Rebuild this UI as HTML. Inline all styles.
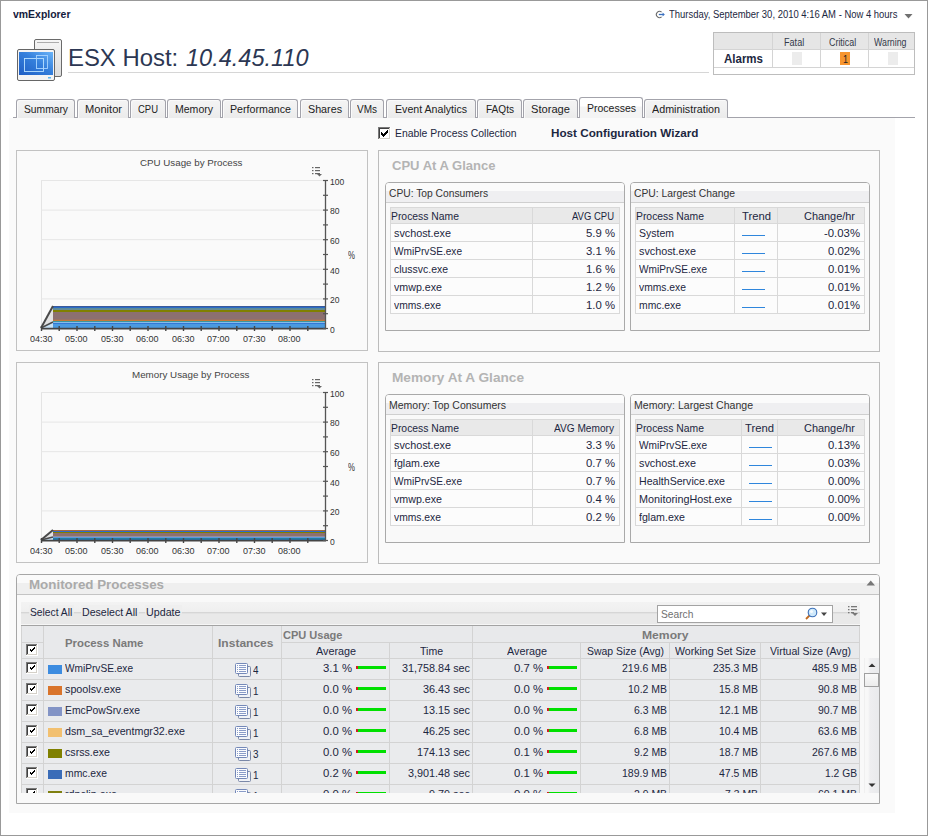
<!DOCTYPE html>
<html><head><meta charset="utf-8"><title>vmExplorer</title>
<style>
html,body{margin:0;padding:0;background:#fff;width:928px;height:836px;overflow:hidden}
body{position:relative;font-family:"Liberation Sans",sans-serif}
.t{position:absolute;white-space:nowrap;line-height:1;transform-origin:0 0}
</style></head><body>
<div class="t" style="left:13.00px;top:8.69px;font-size:11px;color:#14203c;font-weight:bold;transform:scaleX(0.9500);">vmExplorer</div>
<svg style="position:absolute;left:655px;top:9px" width="12" height="11" viewBox="0 0 12 11"><path d="M6.6 3.2 A3.1 3.1 0 1 0 6.6 7.8" fill="none" stroke="#6a6a6a" stroke-width="1.1"/><path d="M3.8 5.5 H8.5" stroke="#3a70c0" stroke-width="1.3"/><path d="M7.6 3.6 L9.8 5.5 L7.6 7.4 Z" fill="#3a70c0"/></svg>
<div class="t" style="left:668.50px;top:9.54px;font-size:10px;color:#1c2741;transform:scaleX(0.9457);">Thursday, September 30, 2010 4:16 AM - Now 4 hours</div>
<svg style="position:absolute;left:904px;top:14px" width="10" height="6"><path d="M0.5 0 H8.5 L4.5 4.5 Z" fill="#707070"/></svg>
<svg style="position:absolute;left:16px;top:38px" width="48" height="45" viewBox="0 0 48 45">
<defs><linearGradient id="scr" x1="0" y1="1" x2="1" y2="0"><stop offset="0" stop-color="#1f5ec4"/><stop offset="0.55" stop-color="#3580dc"/><stop offset="1" stop-color="#6ab4f8"/></linearGradient>
<linearGradient id="srv" x1="0" y1="0" x2="0" y2="1"><stop offset="0" stop-color="#f6f6f6"/><stop offset="1" stop-color="#dcdcdc"/></linearGradient></defs>
<rect x="18.5" y="1.5" width="27" height="37" rx="1.5" fill="url(#srv)" stroke="#6a6a6a" stroke-width="1"/>
<line x1="21" y1="4.5" x2="43" y2="4.5" stroke="#999" stroke-width="0.8"/>
<rect x="1.5" y="11.5" width="37" height="31" rx="1.5" fill="#f4f4f4" stroke="#666" stroke-width="1"/>
<rect x="3" y="14" width="34" height="23" fill="url(#scr)"/>
<rect x="8.5" y="20.5" width="19" height="13" fill="none" stroke="#b8e0ff" stroke-width="0.9"/>
<rect x="20.5" y="17.5" width="11" height="13" fill="none" stroke="#a8d4ff" stroke-width="0.9"/>
<rect x="32" y="39" width="3" height="1.5" fill="#5ab4f0"/>
</svg>
<div class="t" style="left:67.50px;top:45.68px;font-size:24px;color:#2c3753;transform:scaleX(0.9950);">ESX Host: </div>
<div class="t" style="left:186.38px;top:45.68px;font-size:24px;color:#2c3753;font-style:italic;transform:scaleX(0.9810);">10.4.45.110</div>
<div style="position:absolute;left:68px;top:72px;width:641px;height:1px;background:#d6d6d6"></div>
<div style="position:absolute;left:713px;top:32px;width:200px;height:41px;border:1px solid #bdbdbd;background:#fff"></div>
<div style="position:absolute;left:714px;top:33px;width:200px;height:16px;background:#e6e6e6"></div>
<div style="position:absolute;left:714px;top:49px;width:200px;height:1px;background:#d4d4d4"></div>
<div style="position:absolute;left:714px;top:67px;width:200px;height:1px;background:#d4d4d4"></div>
<div style="position:absolute;left:772px;top:33px;width:1px;height:35px;background:#d4d4d4"></div>
<div style="position:absolute;left:820px;top:33px;width:1px;height:35px;background:#d4d4d4"></div>
<div style="position:absolute;left:868px;top:33px;width:1px;height:35px;background:#d4d4d4"></div>
<div class="t" style="left:784.00px;top:37.53px;font-size:10px;color:#333a4a;transform:scaleX(0.9086);">Fatal</div>
<div class="t" style="left:829.00px;top:37.53px;font-size:10px;color:#333a4a;transform:scaleX(0.8902);">Critical</div>
<div class="t" style="left:874.00px;top:37.53px;font-size:10px;color:#333a4a;transform:scaleX(0.8816);">Warning</div>
<div class="t" style="left:724.00px;top:52.84px;font-size:12px;color:#1c2741;font-weight:bold;transform:scaleX(0.9585);">Alarms</div>
<div style="position:absolute;left:792px;top:52px;width:10px;height:13px;background:#ececec"></div>
<div style="position:absolute;left:840px;top:52px;width:10px;height:13px;background:#f7952e"></div>
<div class="t" style="left:842.50px;top:53.69px;font-size:11px;color:#222;transform:scaleX(0.8173);">1</div>
<div style="position:absolute;left:888px;top:52px;width:10px;height:13px;background:#ececec"></div>
<div style="position:absolute;left:9px;top:118px;width:886px;height:695px;background:#fafafa"></div>
<div style="position:absolute;left:13px;top:117px;width:902px;height:1px;background:#a3a3ab"></div>
<div style="position:absolute;left:16px;top:99px;width:57px;height:18px;border:1px solid #a3a3ab;border-bottom:none;border-radius:3px 3px 0 0;background:linear-gradient(#f4f4f4 0,#f0f0f0 50%,#ebebeb 100%);box-shadow:inset 1px 1px 0 #fafafa"></div>
<div class="t" style="left:23.50px;top:103.69px;font-size:11px;color:#222;transform:scaleX(0.9349);">Summary</div>
<div style="position:absolute;left:77px;top:99px;width:50px;height:18px;border:1px solid #a3a3ab;border-bottom:none;border-radius:3px 3px 0 0;background:linear-gradient(#f4f4f4 0,#f0f0f0 50%,#ebebeb 100%);box-shadow:inset 1px 1px 0 #fafafa"></div>
<div class="t" style="left:84.50px;top:103.69px;font-size:11px;color:#222;transform:scaleX(1.0087);">Monitor</div>
<div style="position:absolute;left:130px;top:99px;width:34px;height:18px;border:1px solid #a3a3ab;border-bottom:none;border-radius:3px 3px 0 0;background:linear-gradient(#f4f4f4 0,#f0f0f0 50%,#ebebeb 100%);box-shadow:inset 1px 1px 0 #fafafa"></div>
<div class="t" style="left:138.00px;top:103.69px;font-size:11px;color:#222;transform:scaleX(0.8612);">CPU</div>
<div style="position:absolute;left:167px;top:99px;width:52px;height:18px;border:1px solid #a3a3ab;border-bottom:none;border-radius:3px 3px 0 0;background:linear-gradient(#f4f4f4 0,#f0f0f0 50%,#ebebeb 100%);box-shadow:inset 1px 1px 0 #fafafa"></div>
<div class="t" style="left:175.00px;top:103.69px;font-size:11px;color:#222;transform:scaleX(0.9566);">Memory</div>
<div style="position:absolute;left:222px;top:99px;width:74px;height:18px;border:1px solid #a3a3ab;border-bottom:none;border-radius:3px 3px 0 0;background:linear-gradient(#f4f4f4 0,#f0f0f0 50%,#ebebeb 100%);box-shadow:inset 1px 1px 0 #fafafa"></div>
<div class="t" style="left:229.50px;top:103.69px;font-size:11px;color:#222;transform:scaleX(0.9687);">Performance</div>
<div style="position:absolute;left:300px;top:99px;width:47px;height:18px;border:1px solid #a3a3ab;border-bottom:none;border-radius:3px 3px 0 0;background:linear-gradient(#f4f4f4 0,#f0f0f0 50%,#ebebeb 100%);box-shadow:inset 1px 1px 0 #fafafa"></div>
<div class="t" style="left:307.50px;top:103.69px;font-size:11px;color:#222;transform:scaleX(0.9755);">Shares</div>
<div style="position:absolute;left:350px;top:99px;width:32px;height:18px;border:1px solid #a3a3ab;border-bottom:none;border-radius:3px 3px 0 0;background:linear-gradient(#f4f4f4 0,#f0f0f0 50%,#ebebeb 100%);box-shadow:inset 1px 1px 0 #fafafa"></div>
<div class="t" style="left:357.00px;top:103.69px;font-size:11px;color:#222;transform:scaleX(0.9091);">VMs</div>
<div style="position:absolute;left:386px;top:99px;width:88px;height:18px;border:1px solid #a3a3ab;border-bottom:none;border-radius:3px 3px 0 0;background:linear-gradient(#f4f4f4 0,#f0f0f0 50%,#ebebeb 100%);box-shadow:inset 1px 1px 0 #fafafa"></div>
<div class="t" style="left:395.00px;top:103.69px;font-size:11px;color:#222;transform:scaleX(0.9652);">Event Analytics</div>
<div style="position:absolute;left:477px;top:99px;width:43px;height:18px;border:1px solid #a3a3ab;border-bottom:none;border-radius:3px 3px 0 0;background:linear-gradient(#f4f4f4 0,#f0f0f0 50%,#ebebeb 100%);box-shadow:inset 1px 1px 0 #fafafa"></div>
<div class="t" style="left:485.50px;top:103.69px;font-size:11px;color:#222;transform:scaleX(0.9162);">FAQts</div>
<div style="position:absolute;left:523px;top:99px;width:53px;height:18px;border:1px solid #a3a3ab;border-bottom:none;border-radius:3px 3px 0 0;background:linear-gradient(#f4f4f4 0,#f0f0f0 50%,#ebebeb 100%);box-shadow:inset 1px 1px 0 #fafafa"></div>
<div class="t" style="left:531.00px;top:103.69px;font-size:11px;color:#222;transform:scaleX(1.0123);">Storage</div>
<div style="position:absolute;left:579px;top:97px;width:62px;height:20px;border:1px solid #a3a3ab;border-bottom:none;border-radius:3px 3px 0 0;background:linear-gradient(#fff 0,#fff 40%,#f4f4f4 45%,#f4f4f4 100%)"></div>
<div style="position:absolute;left:580px;top:117px;width:62px;height:1px;background:#f4f4f4"></div>
<div class="t" style="left:586.50px;top:102.69px;font-size:11px;color:#222;transform:scaleX(0.9542);">Processes</div>
<div style="position:absolute;left:644px;top:99px;width:82px;height:18px;border:1px solid #a3a3ab;border-bottom:none;border-radius:3px 3px 0 0;background:linear-gradient(#f4f4f4 0,#f0f0f0 50%,#ebebeb 100%);box-shadow:inset 1px 1px 0 #fafafa"></div>
<div class="t" style="left:652.00px;top:103.69px;font-size:11px;color:#222;transform:scaleX(0.9757);">Administration</div>
<svg style="position:absolute;left:378px;top:127px" width="13" height="13" shape-rendering="crispEdges"><rect x="0" y="0" width="13" height="13" fill="#ffffff"/><rect x="0" y="0" width="12" height="1" fill="#7a7a7a"/><rect x="0" y="0" width="1" height="12" fill="#7a7a7a"/><rect x="1" y="1" width="10" height="1" fill="#404040"/><rect x="1" y="1" width="1" height="10" fill="#404040"/><rect x="1" y="11" width="11" height="1" fill="#d4d0c8"/><rect x="11" y="1" width="1" height="11" fill="#d4d0c8"/><rect x="9" y="3" width="1" height="1" fill="#000"/><rect x="8" y="4" width="1" height="1" fill="#000"/><rect x="9" y="4" width="1" height="1" fill="#000"/><rect x="3" y="5" width="1" height="1" fill="#000"/><rect x="7" y="5" width="1" height="1" fill="#000"/><rect x="8" y="5" width="1" height="1" fill="#000"/><rect x="9" y="5" width="1" height="1" fill="#000"/><rect x="3" y="6" width="1" height="1" fill="#000"/><rect x="4" y="6" width="1" height="1" fill="#000"/><rect x="6" y="6" width="1" height="1" fill="#000"/><rect x="7" y="6" width="1" height="1" fill="#000"/><rect x="8" y="6" width="1" height="1" fill="#000"/><rect x="3" y="7" width="1" height="1" fill="#000"/><rect x="4" y="7" width="1" height="1" fill="#000"/><rect x="5" y="7" width="1" height="1" fill="#000"/><rect x="6" y="7" width="1" height="1" fill="#000"/><rect x="7" y="7" width="1" height="1" fill="#000"/><rect x="4" y="8" width="1" height="1" fill="#000"/><rect x="5" y="8" width="1" height="1" fill="#000"/><rect x="6" y="8" width="1" height="1" fill="#000"/><rect x="5" y="9" width="1" height="1" fill="#000"/></svg>
<div class="t" style="left:394.80px;top:127.89px;font-size:11px;color:#1c2741;transform:scaleX(0.9463);">Enable Process Collection</div>
<div class="t" style="left:551.00px;top:128.27px;font-size:11.5px;color:#1c2741;font-weight:bold;transform:scaleX(1.0179);">Host Configuration Wizard</div>
<div style="position:absolute;left:16px;top:150px;width:350px;height:199px;border:1px solid #c2c2c2;background:#fafafa"></div>
<div class="t" style="left:139.75px;top:157.76px;font-size:9.5px;color:#444;transform:scaleX(1.0272);">CPU Usage by Process</div>
<svg style="position:absolute;left:16px;top:150px" width="352" height="201" viewBox="0 0 352 201"><line x1="25.5" y1="30" x2="25.5" y2="178" stroke="#e4e4e4" stroke-width="1"/><line x1="25" y1="30.5" x2="309" y2="30.5" stroke="#e6e6e6" stroke-width="1"/><line x1="25" y1="60.1" x2="309" y2="60.1" stroke="#e6e6e6" stroke-width="1"/><line x1="25" y1="89.7" x2="309" y2="89.7" stroke="#e6e6e6" stroke-width="1"/><line x1="25" y1="119.3" x2="309" y2="119.3" stroke="#e6e6e6" stroke-width="1"/><line x1="25" y1="148.9" x2="309" y2="148.9" stroke="#e6e6e6" stroke-width="1"/><path d="M25 178 L37 156.0 L37 178 Z" fill="#e2e2e2"/><rect x="37" y="156.0" width="272" height="22.0" fill="#3a5a9a"/><rect x="37" y="157.0" width="272" height="21.0" fill="#2a6ac8"/><rect x="37" y="158.0" width="272" height="20.0" fill="#5a8a98"/><rect x="37" y="159.8" width="272" height="18.2" fill="#909090"/><rect x="37" y="160.0" width="272" height="18.0" fill="#808000"/><rect x="37" y="162.0" width="272" height="16.0" fill="#8c7070"/><rect x="37" y="169.8" width="272" height="8.2" fill="#d87830"/><rect x="37" y="170.9" width="272" height="7.1" fill="#208a8a"/><rect x="37" y="171.8" width="272" height="6.2" fill="#a0d0f0"/><rect x="37" y="172.8" width="272" height="5.2" fill="#2a6ad0"/><rect x="37" y="173.7" width="272" height="4.3" fill="#4a9ae0"/><path d="M25 178 L37 172.0 L37 178 Z" fill="#c8e2f6"/><path d="M25 178 L37 156.0" stroke="#4a4a4a" stroke-width="2"/><path d="M25 178 L37 172.0" stroke="#4a4a4a" stroke-width="1.4"/><line x1="25" y1="178.6" x2="310" y2="178.6" stroke="#444" stroke-width="1.6"/><line x1="309.5" y1="30" x2="309.5" y2="179" stroke="#555" stroke-width="1.3"/><line x1="307" y1="30.5" x2="312" y2="30.5" stroke="#555" stroke-width="1.2"/><line x1="307" y1="45.3" x2="312" y2="45.3" stroke="#555" stroke-width="1.2"/><line x1="307" y1="60.1" x2="312" y2="60.1" stroke="#555" stroke-width="1.2"/><line x1="307" y1="74.9" x2="312" y2="74.9" stroke="#555" stroke-width="1.2"/><line x1="307" y1="89.7" x2="312" y2="89.7" stroke="#555" stroke-width="1.2"/><line x1="307" y1="104.5" x2="312" y2="104.5" stroke="#555" stroke-width="1.2"/><line x1="307" y1="119.3" x2="312" y2="119.3" stroke="#555" stroke-width="1.2"/><line x1="307" y1="134.1" x2="312" y2="134.1" stroke="#555" stroke-width="1.2"/><line x1="307" y1="148.9" x2="312" y2="148.9" stroke="#555" stroke-width="1.2"/><line x1="307" y1="163.7" x2="312" y2="163.7" stroke="#555" stroke-width="1.2"/><line x1="307" y1="178.5" x2="312" y2="178.5" stroke="#555" stroke-width="1.2"/><line x1="25.5" y1="176" x2="25.5" y2="181" stroke="#444" stroke-width="1.4"/><line x1="43.2" y1="176" x2="43.2" y2="181" stroke="#444" stroke-width="1.4"/><line x1="61.0" y1="176" x2="61.0" y2="181" stroke="#444" stroke-width="1.4"/><line x1="78.8" y1="176" x2="78.8" y2="181" stroke="#444" stroke-width="1.4"/><line x1="96.5" y1="176" x2="96.5" y2="181" stroke="#444" stroke-width="1.4"/><line x1="114.2" y1="176" x2="114.2" y2="181" stroke="#444" stroke-width="1.4"/><line x1="132.0" y1="176" x2="132.0" y2="181" stroke="#444" stroke-width="1.4"/><line x1="149.8" y1="176" x2="149.8" y2="181" stroke="#444" stroke-width="1.4"/><line x1="167.5" y1="176" x2="167.5" y2="181" stroke="#444" stroke-width="1.4"/><line x1="185.2" y1="176" x2="185.2" y2="181" stroke="#444" stroke-width="1.4"/><line x1="203.0" y1="176" x2="203.0" y2="181" stroke="#444" stroke-width="1.4"/><line x1="220.8" y1="176" x2="220.8" y2="181" stroke="#444" stroke-width="1.4"/><line x1="238.5" y1="176" x2="238.5" y2="181" stroke="#444" stroke-width="1.4"/><line x1="256.2" y1="176" x2="256.2" y2="181" stroke="#444" stroke-width="1.4"/><line x1="274.0" y1="176" x2="274.0" y2="181" stroke="#444" stroke-width="1.4"/><line x1="291.8" y1="176" x2="291.8" y2="181" stroke="#444" stroke-width="1.4"/><g fill="#666"><rect x="296" y="17" width="1.5" height="1.2"/><rect x="296" y="20" width="1.5" height="1.2"/><rect x="296" y="23" width="1.5" height="1.2"/><rect x="299" y="17" width="5" height="1.2"/><rect x="299" y="20" width="5" height="1.2"/><rect x="299" y="23" width="5" height="1.2"/><path d="M301 24 h5 l-2.5 2.5z"/></g></svg>
<div class="t" style="left:329.80px;top:176.76px;font-size:9.5px;color:#333;transform:scaleX(0.9000);">100</div>
<div class="t" style="left:329.80px;top:206.36px;font-size:9.5px;color:#333;transform:scaleX(0.9000);">80</div>
<div class="t" style="left:329.80px;top:235.96px;font-size:9.5px;color:#333;transform:scaleX(0.9000);">60</div>
<div class="t" style="left:329.80px;top:265.56px;font-size:9.5px;color:#333;transform:scaleX(0.9000);">40</div>
<div class="t" style="left:329.80px;top:295.16px;font-size:9.5px;color:#333;transform:scaleX(0.9000);">20</div>
<div class="t" style="left:329.80px;top:324.76px;font-size:9.5px;color:#333;transform:scaleX(0.9000);">0</div>
<div class="t" style="left:347.60px;top:250.53px;font-size:10px;color:#333;transform:scaleX(0.7800);">%</div>
<div class="t" style="left:29.95px;top:334.73px;font-size:9.3px;color:#333;transform:scaleX(0.9671);">04:30</div>
<div class="t" style="left:65.45px;top:334.73px;font-size:9.3px;color:#333;transform:scaleX(0.9671);">05:00</div>
<div class="t" style="left:100.95px;top:334.73px;font-size:9.3px;color:#333;transform:scaleX(0.9671);">05:30</div>
<div class="t" style="left:136.45px;top:334.73px;font-size:9.3px;color:#333;transform:scaleX(0.9671);">06:00</div>
<div class="t" style="left:171.95px;top:334.73px;font-size:9.3px;color:#333;transform:scaleX(0.9671);">06:30</div>
<div class="t" style="left:207.45px;top:334.73px;font-size:9.3px;color:#333;transform:scaleX(0.9671);">07:00</div>
<div class="t" style="left:242.95px;top:334.73px;font-size:9.3px;color:#333;transform:scaleX(0.9671);">07:30</div>
<div class="t" style="left:278.45px;top:334.73px;font-size:9.3px;color:#333;transform:scaleX(0.9671);">08:00</div>
<div style="position:absolute;left:16px;top:362px;width:350px;height:199px;border:1px solid #c2c2c2;background:#fafafa"></div>
<div class="t" style="left:132.25px;top:369.76px;font-size:9.5px;color:#444;transform:scaleX(1.0304);">Memory Usage by Process</div>
<svg style="position:absolute;left:16px;top:362px" width="352" height="201" viewBox="0 0 352 201"><line x1="25.5" y1="30" x2="25.5" y2="178" stroke="#e4e4e4" stroke-width="1"/><line x1="25" y1="30.5" x2="309" y2="30.5" stroke="#e6e6e6" stroke-width="1"/><line x1="25" y1="60.1" x2="309" y2="60.1" stroke="#e6e6e6" stroke-width="1"/><line x1="25" y1="89.7" x2="309" y2="89.7" stroke="#e6e6e6" stroke-width="1"/><line x1="25" y1="119.3" x2="309" y2="119.3" stroke="#e6e6e6" stroke-width="1"/><line x1="25" y1="148.9" x2="309" y2="148.9" stroke="#e6e6e6" stroke-width="1"/><path d="M25 178 L37 168.0 L37 178 Z" fill="#e2e2e2"/><rect x="37" y="168.0" width="272" height="10.0" fill="#a86a40"/><rect x="37" y="169.0" width="272" height="9.0" fill="#2a6ad0"/><rect x="37" y="170.0" width="272" height="8.0" fill="#808000"/><rect x="37" y="171.0" width="272" height="7.0" fill="#8c7070"/><rect x="37" y="174.7" width="272" height="3.3" fill="#b0d8f0"/><rect x="37" y="175.4" width="272" height="2.6" fill="#2a6ad0"/><rect x="37" y="176.3" width="272" height="1.7" fill="#208a8a"/><rect x="37" y="177.4" width="272" height="0.6" fill="#2a6ad0"/><path d="M25 178 L37 175.0 L37 178 Z" fill="#c8e2f6"/><path d="M25 178 L37 168.0" stroke="#4a4a4a" stroke-width="2"/><path d="M25 178 L37 175.0" stroke="#4a4a4a" stroke-width="1.4"/><line x1="25" y1="178.6" x2="310" y2="178.6" stroke="#444" stroke-width="1.6"/><line x1="309.5" y1="30" x2="309.5" y2="179" stroke="#555" stroke-width="1.3"/><line x1="307" y1="30.5" x2="312" y2="30.5" stroke="#555" stroke-width="1.2"/><line x1="307" y1="45.3" x2="312" y2="45.3" stroke="#555" stroke-width="1.2"/><line x1="307" y1="60.1" x2="312" y2="60.1" stroke="#555" stroke-width="1.2"/><line x1="307" y1="74.9" x2="312" y2="74.9" stroke="#555" stroke-width="1.2"/><line x1="307" y1="89.7" x2="312" y2="89.7" stroke="#555" stroke-width="1.2"/><line x1="307" y1="104.5" x2="312" y2="104.5" stroke="#555" stroke-width="1.2"/><line x1="307" y1="119.3" x2="312" y2="119.3" stroke="#555" stroke-width="1.2"/><line x1="307" y1="134.1" x2="312" y2="134.1" stroke="#555" stroke-width="1.2"/><line x1="307" y1="148.9" x2="312" y2="148.9" stroke="#555" stroke-width="1.2"/><line x1="307" y1="163.7" x2="312" y2="163.7" stroke="#555" stroke-width="1.2"/><line x1="307" y1="178.5" x2="312" y2="178.5" stroke="#555" stroke-width="1.2"/><line x1="25.5" y1="176" x2="25.5" y2="181" stroke="#444" stroke-width="1.4"/><line x1="43.2" y1="176" x2="43.2" y2="181" stroke="#444" stroke-width="1.4"/><line x1="61.0" y1="176" x2="61.0" y2="181" stroke="#444" stroke-width="1.4"/><line x1="78.8" y1="176" x2="78.8" y2="181" stroke="#444" stroke-width="1.4"/><line x1="96.5" y1="176" x2="96.5" y2="181" stroke="#444" stroke-width="1.4"/><line x1="114.2" y1="176" x2="114.2" y2="181" stroke="#444" stroke-width="1.4"/><line x1="132.0" y1="176" x2="132.0" y2="181" stroke="#444" stroke-width="1.4"/><line x1="149.8" y1="176" x2="149.8" y2="181" stroke="#444" stroke-width="1.4"/><line x1="167.5" y1="176" x2="167.5" y2="181" stroke="#444" stroke-width="1.4"/><line x1="185.2" y1="176" x2="185.2" y2="181" stroke="#444" stroke-width="1.4"/><line x1="203.0" y1="176" x2="203.0" y2="181" stroke="#444" stroke-width="1.4"/><line x1="220.8" y1="176" x2="220.8" y2="181" stroke="#444" stroke-width="1.4"/><line x1="238.5" y1="176" x2="238.5" y2="181" stroke="#444" stroke-width="1.4"/><line x1="256.2" y1="176" x2="256.2" y2="181" stroke="#444" stroke-width="1.4"/><line x1="274.0" y1="176" x2="274.0" y2="181" stroke="#444" stroke-width="1.4"/><line x1="291.8" y1="176" x2="291.8" y2="181" stroke="#444" stroke-width="1.4"/><g fill="#666"><rect x="296" y="17" width="1.5" height="1.2"/><rect x="296" y="20" width="1.5" height="1.2"/><rect x="296" y="23" width="1.5" height="1.2"/><rect x="299" y="17" width="5" height="1.2"/><rect x="299" y="20" width="5" height="1.2"/><rect x="299" y="23" width="5" height="1.2"/><path d="M301 24 h5 l-2.5 2.5z"/></g></svg>
<div class="t" style="left:329.80px;top:388.76px;font-size:9.5px;color:#333;transform:scaleX(0.9000);">100</div>
<div class="t" style="left:329.80px;top:418.36px;font-size:9.5px;color:#333;transform:scaleX(0.9000);">80</div>
<div class="t" style="left:329.80px;top:447.96px;font-size:9.5px;color:#333;transform:scaleX(0.9000);">60</div>
<div class="t" style="left:329.80px;top:477.56px;font-size:9.5px;color:#333;transform:scaleX(0.9000);">40</div>
<div class="t" style="left:329.80px;top:507.16px;font-size:9.5px;color:#333;transform:scaleX(0.9000);">20</div>
<div class="t" style="left:329.80px;top:536.76px;font-size:9.5px;color:#333;transform:scaleX(0.9000);">0</div>
<div class="t" style="left:347.60px;top:462.54px;font-size:10px;color:#333;transform:scaleX(0.7800);">%</div>
<div class="t" style="left:29.95px;top:546.73px;font-size:9.3px;color:#333;transform:scaleX(0.9671);">04:30</div>
<div class="t" style="left:65.45px;top:546.73px;font-size:9.3px;color:#333;transform:scaleX(0.9671);">05:00</div>
<div class="t" style="left:100.95px;top:546.73px;font-size:9.3px;color:#333;transform:scaleX(0.9671);">05:30</div>
<div class="t" style="left:136.45px;top:546.73px;font-size:9.3px;color:#333;transform:scaleX(0.9671);">06:00</div>
<div class="t" style="left:171.95px;top:546.73px;font-size:9.3px;color:#333;transform:scaleX(0.9671);">06:30</div>
<div class="t" style="left:207.45px;top:546.73px;font-size:9.3px;color:#333;transform:scaleX(0.9671);">07:00</div>
<div class="t" style="left:242.95px;top:546.73px;font-size:9.3px;color:#333;transform:scaleX(0.9671);">07:30</div>
<div class="t" style="left:278.45px;top:546.73px;font-size:9.3px;color:#333;transform:scaleX(0.9671);">08:00</div>
<div style="position:absolute;left:378px;top:150px;width:500px;height:200px;border:1px solid #bcbcbc;background:#fafafa"></div>
<div class="t" style="left:391.50px;top:158.50px;font-size:13px;color:#b4b4b4;font-weight:bold;transform:scaleX(1.0020);">CPU At A Glance</div>
<div style="position:absolute;left:385px;top:182px;width:238px;height:147px;border:1px solid #a9a9a9;border-radius:4px 4px 0 0;background:#f9f9f9"></div>
<div style="position:absolute;left:386px;top:183px;width:238px;height:19px;background:linear-gradient(#fbfbfb 0,#fbfbfb 40%,#efeff1 41%,#efeff1 100%);border-bottom:1px solid #cfcfcf;border-radius:3px 3px 0 0"></div>
<div class="t" style="left:388.50px;top:187.89px;font-size:11px;color:#333;transform:scaleX(0.9325);">CPU: Top Consumers</div>
<div style="position:absolute;left:390px;top:207px;width:230px;height:107px;background:#fcfcfc"></div>
<div style="position:absolute;left:390px;top:207px;width:230px;height:17px;background:#e9e9e9"></div>
<div style="position:absolute;left:390px;top:207px;width:230px;height:1px;background:#d9d9d9"></div>
<div style="position:absolute;left:390px;top:223px;width:230px;height:1px;background:#d9d9d9"></div>
<div style="position:absolute;left:390px;top:241px;width:230px;height:1px;background:#d9d9d9"></div>
<div style="position:absolute;left:390px;top:259px;width:230px;height:1px;background:#d9d9d9"></div>
<div style="position:absolute;left:390px;top:277px;width:230px;height:1px;background:#d9d9d9"></div>
<div style="position:absolute;left:390px;top:295px;width:230px;height:1px;background:#d9d9d9"></div>
<div style="position:absolute;left:390px;top:313px;width:230px;height:1px;background:#d9d9d9"></div>
<div style="position:absolute;left:390px;top:207px;width:1px;height:107px;background:#d9d9d9"></div>
<div style="position:absolute;left:619px;top:207px;width:1px;height:107px;background:#d9d9d9"></div>
<div style="position:absolute;left:532px;top:207px;width:1px;height:107px;background:#d9d9d9"></div>
<div class="t" style="left:391.20px;top:211.19px;font-size:11px;color:#1c2741;transform:scaleX(0.9427);">Process Name</div>
<div class="t" style="left:572.00px;top:211.19px;font-size:11px;color:#1c2741;transform:scaleX(0.8625);">AVG CPU</div>
<div class="t" style="left:394.00px;top:227.69px;font-size:11px;color:#1c2741;transform:scaleX(0.9814);">svchost.exe</div>
<div class="t" style="left:586.00px;top:227.69px;font-size:11px;color:#1c2741;transform:scaleX(1.0310);">5.9 %</div>
<div class="t" style="left:394.00px;top:245.69px;font-size:11px;color:#1c2741;transform:scaleX(0.9195);">WmiPrvSE.exe</div>
<div class="t" style="left:586.00px;top:245.69px;font-size:11px;color:#1c2741;transform:scaleX(1.0310);">3.1 %</div>
<div class="t" style="left:394.00px;top:263.69px;font-size:11px;color:#1c2741;transform:scaleX(0.9498);">clussvc.exe</div>
<div class="t" style="left:586.00px;top:263.69px;font-size:11px;color:#1c2741;transform:scaleX(1.0310);">1.6 %</div>
<div class="t" style="left:394.00px;top:281.69px;font-size:11px;color:#1c2741;transform:scaleX(0.9694);">vmwp.exe</div>
<div class="t" style="left:586.00px;top:281.69px;font-size:11px;color:#1c2741;transform:scaleX(1.0310);">1.2 %</div>
<div class="t" style="left:394.00px;top:299.69px;font-size:11px;color:#1c2741;transform:scaleX(0.9378);">vmms.exe</div>
<div class="t" style="left:586.00px;top:299.69px;font-size:11px;color:#1c2741;transform:scaleX(1.0310);">1.0 %</div>
<div style="position:absolute;left:630px;top:182px;width:238px;height:147px;border:1px solid #a9a9a9;border-radius:4px 4px 0 0;background:#f9f9f9"></div>
<div style="position:absolute;left:631px;top:183px;width:238px;height:19px;background:linear-gradient(#fbfbfb 0,#fbfbfb 40%,#efeff1 41%,#efeff1 100%);border-bottom:1px solid #cfcfcf;border-radius:3px 3px 0 0"></div>
<div class="t" style="left:633.50px;top:187.89px;font-size:11px;color:#333;transform:scaleX(0.9385);">CPU: Largest Change</div>
<div style="position:absolute;left:635px;top:207px;width:230px;height:107px;background:#fcfcfc"></div>
<div style="position:absolute;left:635px;top:207px;width:230px;height:17px;background:#e9e9e9"></div>
<div style="position:absolute;left:635px;top:207px;width:230px;height:1px;background:#d9d9d9"></div>
<div style="position:absolute;left:635px;top:223px;width:230px;height:1px;background:#d9d9d9"></div>
<div style="position:absolute;left:635px;top:241px;width:230px;height:1px;background:#d9d9d9"></div>
<div style="position:absolute;left:635px;top:259px;width:230px;height:1px;background:#d9d9d9"></div>
<div style="position:absolute;left:635px;top:277px;width:230px;height:1px;background:#d9d9d9"></div>
<div style="position:absolute;left:635px;top:295px;width:230px;height:1px;background:#d9d9d9"></div>
<div style="position:absolute;left:635px;top:313px;width:230px;height:1px;background:#d9d9d9"></div>
<div style="position:absolute;left:635px;top:207px;width:1px;height:107px;background:#d9d9d9"></div>
<div style="position:absolute;left:864px;top:207px;width:1px;height:107px;background:#d9d9d9"></div>
<div style="position:absolute;left:734px;top:207px;width:1px;height:107px;background:#d9d9d9"></div>
<div style="position:absolute;left:777px;top:207px;width:1px;height:107px;background:#d9d9d9"></div>
<div class="t" style="left:636.20px;top:211.19px;font-size:11px;color:#1c2741;transform:scaleX(0.9427);">Process Name</div>
<div class="t" style="left:741.50px;top:211.19px;font-size:11px;color:#1c2741;transform:scaleX(1.0238);">Trend</div>
<div class="t" style="left:804.00px;top:211.19px;font-size:11px;color:#1c2741;transform:scaleX(0.9928);">Change/hr</div>
<div class="t" style="left:639.00px;top:227.69px;font-size:11px;color:#1c2741;transform:scaleX(0.9544);">System</div>
<div style="position:absolute;left:742px;top:235px;width:23px;height:1px;background:#2f86dc"></div>
<div class="t" style="left:824.00px;top:227.69px;font-size:11px;color:#1c2741;transform:scaleX(1.0329);">-0.03%</div>
<div class="t" style="left:639.00px;top:245.69px;font-size:11px;color:#1c2741;transform:scaleX(0.9814);">svchost.exe</div>
<div style="position:absolute;left:742px;top:253px;width:23px;height:1px;background:#2f86dc"></div>
<div class="t" style="left:828.00px;top:245.69px;font-size:11px;color:#1c2741;transform:scaleX(1.0260);">0.02%</div>
<div class="t" style="left:639.00px;top:263.69px;font-size:11px;color:#1c2741;transform:scaleX(0.9195);">WmiPrvSE.exe</div>
<div style="position:absolute;left:742px;top:271px;width:23px;height:1px;background:#2f86dc"></div>
<div class="t" style="left:828.00px;top:263.69px;font-size:11px;color:#1c2741;transform:scaleX(1.0260);">0.01%</div>
<div class="t" style="left:639.00px;top:281.69px;font-size:11px;color:#1c2741;transform:scaleX(0.9378);">vmms.exe</div>
<div style="position:absolute;left:742px;top:289px;width:23px;height:1px;background:#2f86dc"></div>
<div class="t" style="left:828.00px;top:281.69px;font-size:11px;color:#1c2741;transform:scaleX(1.0260);">0.01%</div>
<div class="t" style="left:639.00px;top:299.69px;font-size:11px;color:#1c2741;transform:scaleX(0.9413);">mmc.exe</div>
<div style="position:absolute;left:742px;top:307px;width:23px;height:1px;background:#2f86dc"></div>
<div class="t" style="left:828.00px;top:299.69px;font-size:11px;color:#1c2741;transform:scaleX(1.0260);">0.01%</div>
<div style="position:absolute;left:378px;top:362px;width:500px;height:200px;border:1px solid #bcbcbc;background:#fafafa"></div>
<div class="t" style="left:391.50px;top:370.50px;font-size:13px;color:#b4b4b4;font-weight:bold;transform:scaleX(1.0502);">Memory At A Glance</div>
<div style="position:absolute;left:385px;top:394px;width:238px;height:147px;border:1px solid #a9a9a9;border-radius:4px 4px 0 0;background:#f9f9f9"></div>
<div style="position:absolute;left:386px;top:395px;width:238px;height:19px;background:linear-gradient(#fbfbfb 0,#fbfbfb 40%,#efeff1 41%,#efeff1 100%);border-bottom:1px solid #cfcfcf;border-radius:3px 3px 0 0"></div>
<div class="t" style="left:388.50px;top:399.89px;font-size:11px;color:#333;transform:scaleX(0.9538);">Memory: Top Consumers</div>
<div style="position:absolute;left:390px;top:419px;width:230px;height:107px;background:#fcfcfc"></div>
<div style="position:absolute;left:390px;top:419px;width:230px;height:17px;background:#e9e9e9"></div>
<div style="position:absolute;left:390px;top:419px;width:230px;height:1px;background:#d9d9d9"></div>
<div style="position:absolute;left:390px;top:435px;width:230px;height:1px;background:#d9d9d9"></div>
<div style="position:absolute;left:390px;top:453px;width:230px;height:1px;background:#d9d9d9"></div>
<div style="position:absolute;left:390px;top:471px;width:230px;height:1px;background:#d9d9d9"></div>
<div style="position:absolute;left:390px;top:489px;width:230px;height:1px;background:#d9d9d9"></div>
<div style="position:absolute;left:390px;top:507px;width:230px;height:1px;background:#d9d9d9"></div>
<div style="position:absolute;left:390px;top:525px;width:230px;height:1px;background:#d9d9d9"></div>
<div style="position:absolute;left:390px;top:419px;width:1px;height:107px;background:#d9d9d9"></div>
<div style="position:absolute;left:619px;top:419px;width:1px;height:107px;background:#d9d9d9"></div>
<div style="position:absolute;left:532px;top:419px;width:1px;height:107px;background:#d9d9d9"></div>
<div class="t" style="left:391.20px;top:423.19px;font-size:11px;color:#1c2741;transform:scaleX(0.9427);">Process Name</div>
<div class="t" style="left:554.00px;top:423.19px;font-size:11px;color:#1c2741;transform:scaleX(0.9203);">AVG Memory</div>
<div class="t" style="left:394.00px;top:439.69px;font-size:11px;color:#1c2741;transform:scaleX(0.9814);">svchost.exe</div>
<div class="t" style="left:586.00px;top:439.69px;font-size:11px;color:#1c2741;transform:scaleX(1.0310);">3.3 %</div>
<div class="t" style="left:394.00px;top:457.69px;font-size:11px;color:#1c2741;transform:scaleX(0.9646);">fglam.exe</div>
<div class="t" style="left:586.00px;top:457.69px;font-size:11px;color:#1c2741;transform:scaleX(1.0310);">0.7 %</div>
<div class="t" style="left:394.00px;top:475.69px;font-size:11px;color:#1c2741;transform:scaleX(0.9195);">WmiPrvSE.exe</div>
<div class="t" style="left:586.00px;top:475.69px;font-size:11px;color:#1c2741;transform:scaleX(1.0310);">0.7 %</div>
<div class="t" style="left:394.00px;top:493.69px;font-size:11px;color:#1c2741;transform:scaleX(0.9694);">vmwp.exe</div>
<div class="t" style="left:586.00px;top:493.69px;font-size:11px;color:#1c2741;transform:scaleX(1.0310);">0.4 %</div>
<div class="t" style="left:394.00px;top:511.69px;font-size:11px;color:#1c2741;transform:scaleX(0.9378);">vmms.exe</div>
<div class="t" style="left:586.00px;top:511.69px;font-size:11px;color:#1c2741;transform:scaleX(1.0310);">0.2 %</div>
<div style="position:absolute;left:630px;top:394px;width:238px;height:147px;border:1px solid #a9a9a9;border-radius:4px 4px 0 0;background:#f9f9f9"></div>
<div style="position:absolute;left:631px;top:395px;width:238px;height:19px;background:linear-gradient(#fbfbfb 0,#fbfbfb 40%,#efeff1 41%,#efeff1 100%);border-bottom:1px solid #cfcfcf;border-radius:3px 3px 0 0"></div>
<div class="t" style="left:633.50px;top:399.89px;font-size:11px;color:#333;transform:scaleX(0.9588);">Memory: Largest Change</div>
<div style="position:absolute;left:635px;top:419px;width:230px;height:107px;background:#fcfcfc"></div>
<div style="position:absolute;left:635px;top:419px;width:230px;height:17px;background:#e9e9e9"></div>
<div style="position:absolute;left:635px;top:419px;width:230px;height:1px;background:#d9d9d9"></div>
<div style="position:absolute;left:635px;top:435px;width:230px;height:1px;background:#d9d9d9"></div>
<div style="position:absolute;left:635px;top:453px;width:230px;height:1px;background:#d9d9d9"></div>
<div style="position:absolute;left:635px;top:471px;width:230px;height:1px;background:#d9d9d9"></div>
<div style="position:absolute;left:635px;top:489px;width:230px;height:1px;background:#d9d9d9"></div>
<div style="position:absolute;left:635px;top:507px;width:230px;height:1px;background:#d9d9d9"></div>
<div style="position:absolute;left:635px;top:525px;width:230px;height:1px;background:#d9d9d9"></div>
<div style="position:absolute;left:635px;top:419px;width:1px;height:107px;background:#d9d9d9"></div>
<div style="position:absolute;left:864px;top:419px;width:1px;height:107px;background:#d9d9d9"></div>
<div style="position:absolute;left:741px;top:419px;width:1px;height:107px;background:#d9d9d9"></div>
<div style="position:absolute;left:777px;top:419px;width:1px;height:107px;background:#d9d9d9"></div>
<div class="t" style="left:636.20px;top:423.19px;font-size:11px;color:#1c2741;transform:scaleX(0.9427);">Process Name</div>
<div class="t" style="left:745.00px;top:423.19px;font-size:11px;color:#1c2741;transform:scaleX(1.0238);">Trend</div>
<div class="t" style="left:804.00px;top:423.19px;font-size:11px;color:#1c2741;transform:scaleX(0.9928);">Change/hr</div>
<div class="t" style="left:639.00px;top:439.69px;font-size:11px;color:#1c2741;transform:scaleX(0.9195);">WmiPrvSE.exe</div>
<div style="position:absolute;left:749px;top:447px;width:23px;height:1px;background:#2f86dc"></div>
<div class="t" style="left:828.00px;top:439.69px;font-size:11px;color:#1c2741;transform:scaleX(1.0260);">0.13%</div>
<div class="t" style="left:639.00px;top:457.69px;font-size:11px;color:#1c2741;transform:scaleX(0.9814);">svchost.exe</div>
<div style="position:absolute;left:749px;top:465px;width:23px;height:1px;background:#2f86dc"></div>
<div class="t" style="left:828.00px;top:457.69px;font-size:11px;color:#1c2741;transform:scaleX(1.0260);">0.03%</div>
<div class="t" style="left:639.00px;top:475.69px;font-size:11px;color:#1c2741;transform:scaleX(0.9634);">HealthService.exe</div>
<div style="position:absolute;left:749px;top:483px;width:23px;height:1px;background:#2f86dc"></div>
<div class="t" style="left:828.00px;top:475.69px;font-size:11px;color:#1c2741;transform:scaleX(1.0260);">0.00%</div>
<div class="t" style="left:639.00px;top:493.69px;font-size:11px;color:#1c2741;transform:scaleX(0.9813);">MonitoringHost.exe</div>
<div style="position:absolute;left:749px;top:501px;width:23px;height:1px;background:#2f86dc"></div>
<div class="t" style="left:828.00px;top:493.69px;font-size:11px;color:#1c2741;transform:scaleX(1.0260);">0.00%</div>
<div class="t" style="left:639.00px;top:511.69px;font-size:11px;color:#1c2741;transform:scaleX(0.9646);">fglam.exe</div>
<div style="position:absolute;left:749px;top:519px;width:23px;height:1px;background:#2f86dc"></div>
<div class="t" style="left:828.00px;top:511.69px;font-size:11px;color:#1c2741;transform:scaleX(1.0260);">0.00%</div>
<div style="position:absolute;left:16px;top:574px;width:862px;height:228px;border:1px solid #a6a6a6;border-radius:4px 4px 0 0;background:#f9f9f9"></div>
<div style="position:absolute;left:17px;top:575px;width:862px;height:19px;background:linear-gradient(#fafafa 0,#fafafa 40%,#efefef 42%,#efefef 100%);border-bottom:1px solid #c4c4c4;border-radius:3px 3px 0 0"></div>
<div class="t" style="left:28.50px;top:578.00px;font-size:13px;color:#aaaaaa;font-weight:bold;transform:scaleX(1.0267);">Monitored Processes</div>
<svg style="position:absolute;left:866px;top:580px" width="10" height="6"><path d="M0.5 5.5 L4.75 0.5 L9 5.5 Z" fill="#777"/></svg>
<div style="position:absolute;left:21px;top:602px;width:839px;height:22px;background:linear-gradient(#f3f3f3 0,#efefef 10px,#e9e9e9 12px,#e9e9e9 100%)"></div>
<div style="position:absolute;left:21px;top:612px;width:839px;height:1px;background:#d6d6d6"></div>
<div style="position:absolute;left:21px;top:613px;width:839px;height:1px;background:#e2e2e2"></div>
<div style="position:absolute;left:21px;top:624px;width:839px;height:1px;background:#f6f6f6"></div>
<div style="position:absolute;left:21px;top:625px;width:839px;height:1px;background:#a3a3a3"></div>
<div style="position:absolute;left:29.2px;top:605px;width:45.3px;height:15px;background:linear-gradient(#efefef 0,#efefef 7px,#e9e9e9 7px,#e9e9e9 100%)"></div>
<div class="t" style="left:29.90px;top:607.19px;font-size:11px;color:#1c2741;transform:scaleX(0.9349);">Select All</div>
<div style="position:absolute;left:80.9px;top:605px;width:58.4px;height:15px;background:linear-gradient(#efefef 0,#efefef 7px,#e9e9e9 7px,#e9e9e9 100%)"></div>
<div class="t" style="left:81.60px;top:607.19px;font-size:11px;color:#1c2741;transform:scaleX(0.9640);">Deselect All</div>
<div style="position:absolute;left:144.9px;top:605px;width:37.5px;height:15px;background:linear-gradient(#efefef 0,#efefef 7px,#e9e9e9 7px,#e9e9e9 100%)"></div>
<div class="t" style="left:145.60px;top:607.19px;font-size:11px;color:#1c2741;transform:scaleX(0.9726);">Update</div>
<div style="position:absolute;left:657px;top:605px;width:174px;height:16px;border:1px solid #a3a3a3;background:#fff"></div>
<div class="t" style="left:661.00px;top:608.69px;font-size:11px;color:#707070;transform:scaleX(0.9300);">Search</div>
<svg style="position:absolute;left:804px;top:606px" width="14" height="15" viewBox="0 0 14 15"><line x1="2" y1="13" x2="6" y2="9" stroke="#c06a20" stroke-width="1.8"/><circle cx="8.5" cy="6.5" r="4.3" fill="#cfe9fb" stroke="#3a6fb8" stroke-width="1.1"/><circle cx="7.5" cy="5.5" r="1.6" fill="#ffffff" opacity="0.8"/></svg>
<svg style="position:absolute;left:821px;top:612px" width="7" height="5"><path d="M0 0.5 H6 L3 4 Z" fill="#444"/></svg>
<svg style="position:absolute;left:847px;top:605px" width="11" height="11"><g fill="#777"><rect x="1" y="1" width="1.5" height="1.3"/><rect x="1" y="4" width="1.5" height="1.3"/><rect x="1" y="7" width="1.5" height="1.3"/><rect x="4" y="1" width="6" height="1.3"/><rect x="4" y="4" width="6" height="1.3"/><rect x="4" y="7" width="3" height="1.3"/><path d="M5 8 h6 l-3 3z"/></g></svg>
<div style="position:absolute;left:21px;top:626px;width:839px;height:167px;background:#eaebed"></div>
<div style="position:absolute;left:21px;top:626px;width:839px;height:32px;background:#e8e9eb"></div>
<div style="position:absolute;left:21px;top:658px;width:839px;height:1px;background:#d3d3d3"></div>
<div style="position:absolute;left:21px;top:642px;width:22px;height:1px;background:#d3d3d3"></div>
<div style="position:absolute;left:281px;top:642px;width:579px;height:1px;background:#d3d3d3"></div>
<div style="position:absolute;left:21px;top:626px;width:1px;height:167px;background:#d3d3d3"></div>
<div style="position:absolute;left:43px;top:626px;width:1px;height:167px;background:#d3d3d3"></div>
<div style="position:absolute;left:212px;top:626px;width:1px;height:167px;background:#d3d3d3"></div>
<div style="position:absolute;left:281px;top:626px;width:1px;height:167px;background:#d3d3d3"></div>
<div style="position:absolute;left:389px;top:642px;width:1px;height:151px;background:#d3d3d3"></div>
<div style="position:absolute;left:472px;top:626px;width:1px;height:167px;background:#d3d3d3"></div>
<div style="position:absolute;left:580px;top:642px;width:1px;height:151px;background:#d3d3d3"></div>
<div style="position:absolute;left:669px;top:642px;width:1px;height:151px;background:#d3d3d3"></div>
<div style="position:absolute;left:760px;top:642px;width:1px;height:151px;background:#d3d3d3"></div>
<div style="position:absolute;left:859px;top:626px;width:1px;height:167px;background:#d3d3d3"></div>
<div class="t" style="left:64.50px;top:637.77px;font-size:11.5px;color:#7a7a7a;font-weight:bold;transform:scaleX(0.9890);">Process Name</div>
<div class="t" style="left:217.80px;top:637.77px;font-size:11.5px;color:#7a7a7a;font-weight:bold;transform:scaleX(1.0461);">Instances</div>
<div class="t" style="left:283.20px;top:630.27px;font-size:11.5px;color:#7a7a7a;font-weight:bold;transform:scaleX(0.9598);">CPU Usage</div>
<div class="t" style="left:642.20px;top:630.27px;font-size:11.5px;color:#7a7a7a;font-weight:bold;transform:scaleX(1.0545);">Memory</div>
<div class="t" style="left:315.50px;top:646.19px;font-size:11px;color:#1c2741;transform:scaleX(0.9811);">Average</div>
<div class="t" style="left:419.50px;top:646.19px;font-size:11px;color:#1c2741;transform:scaleX(0.9569);">Time</div>
<div class="t" style="left:506.50px;top:646.19px;font-size:11px;color:#1c2741;transform:scaleX(0.9811);">Average</div>
<div class="t" style="left:586.50px;top:646.19px;font-size:11px;color:#1c2741;transform:scaleX(0.9493);">Swap Size (Avg)</div>
<div class="t" style="left:674.50px;top:646.19px;font-size:11px;color:#1c2741;transform:scaleX(0.9624);">Working Set Size</div>
<div class="t" style="left:769.50px;top:646.19px;font-size:11px;color:#1c2741;transform:scaleX(0.9577);">Virtual Size (Avg)</div>
<svg style="position:absolute;left:26px;top:644px" width="12" height="12" shape-rendering="crispEdges"><rect x="0" y="0" width="12" height="12" fill="#ffffff"/><rect x="0" y="0" width="11" height="1" fill="#7a7a7a"/><rect x="0" y="0" width="1" height="11" fill="#7a7a7a"/><rect x="1" y="1" width="9" height="1" fill="#404040"/><rect x="1" y="1" width="1" height="9" fill="#404040"/><rect x="1" y="10" width="10" height="1" fill="#d4d0c8"/><rect x="10" y="1" width="1" height="10" fill="#d4d0c8"/><rect x="8" y="3" width="1" height="1" fill="#000"/><rect x="7" y="4" width="1" height="1" fill="#000"/><rect x="8" y="4" width="1" height="1" fill="#000"/><rect x="4" y="5" width="1" height="1" fill="#000"/><rect x="6" y="5" width="1" height="1" fill="#000"/><rect x="7" y="5" width="1" height="1" fill="#000"/><rect x="4" y="6" width="1" height="1" fill="#000"/><rect x="5" y="6" width="1" height="1" fill="#000"/><rect x="6" y="6" width="1" height="1" fill="#000"/><rect x="5" y="7" width="1" height="1" fill="#000"/></svg>
<div style="position:absolute;left:0;top:0;width:928px;height:793px;overflow:hidden">
<svg style="position:absolute;left:26px;top:662px" width="12" height="12" shape-rendering="crispEdges"><rect x="0" y="0" width="12" height="12" fill="#ffffff"/><rect x="0" y="0" width="11" height="1" fill="#7a7a7a"/><rect x="0" y="0" width="1" height="11" fill="#7a7a7a"/><rect x="1" y="1" width="9" height="1" fill="#404040"/><rect x="1" y="1" width="1" height="9" fill="#404040"/><rect x="1" y="10" width="10" height="1" fill="#d4d0c8"/><rect x="10" y="1" width="1" height="10" fill="#d4d0c8"/><rect x="8" y="3" width="1" height="1" fill="#000"/><rect x="7" y="4" width="1" height="1" fill="#000"/><rect x="8" y="4" width="1" height="1" fill="#000"/><rect x="4" y="5" width="1" height="1" fill="#000"/><rect x="6" y="5" width="1" height="1" fill="#000"/><rect x="7" y="5" width="1" height="1" fill="#000"/><rect x="4" y="6" width="1" height="1" fill="#000"/><rect x="5" y="6" width="1" height="1" fill="#000"/><rect x="6" y="6" width="1" height="1" fill="#000"/><rect x="5" y="7" width="1" height="1" fill="#000"/></svg>
<div style="position:absolute;left:48px;top:665px;width:14px;height:9px;background:#3d8ce0"></div>
<div class="t" style="left:65.00px;top:662.69px;font-size:11px;color:#1c2741;transform:scaleX(0.9195);">WmiPrvSE.exe</div>
<svg style="position:absolute;left:234px;top:663px" width="18" height="15" viewBox="0 0 18 15"><rect x="4.5" y="3.5" width="12" height="10" rx="1" fill="#f0f2f6" stroke="#7a88a8"/><rect x="1.5" y="0.5" width="12" height="10" rx="1" fill="#fbfcfe" stroke="#7488b8"/><g fill="#8a9cc8"><rect x="3" y="2" width="1" height="1"/><rect x="3" y="4" width="1" height="1"/><rect x="3" y="6" width="1" height="1"/><rect x="3" y="8" width="1" height="1"/><rect x="5" y="2" width="7" height="1"/><rect x="5" y="4" width="7" height="1"/><rect x="5" y="6" width="7" height="1"/><rect x="5" y="8" width="7" height="1"/></g></svg>
<div class="t" style="left:253.30px;top:665.19px;font-size:11px;color:#1c2741;transform:scaleX(0.8990);">4</div>
<div class="t" style="left:323.00px;top:662.69px;font-size:11px;color:#1c2741;transform:scaleX(1.0310);">3.1 %</div>
<div style="position:absolute;left:356px;top:666px;width:30px;height:3px;background:#00e000"></div>
<div style="position:absolute;left:356px;top:666px;width:2px;height:3px;background:#d02020"></div>
<div class="t" style="left:401.50px;top:662.69px;font-size:11px;color:#1c2741;transform:scaleX(0.9839);">31,758.84 sec</div>
<div class="t" style="left:514.00px;top:662.69px;font-size:11px;color:#1c2741;transform:scaleX(1.0310);">0.7 %</div>
<div style="position:absolute;left:547px;top:666px;width:30px;height:3px;background:#00e000"></div>
<div style="position:absolute;left:547px;top:666px;width:2px;height:3px;background:#d02020"></div>
<div class="t" style="left:622.00px;top:662.69px;font-size:11px;color:#1c2741;transform:scaleX(0.9558);">219.6 MB</div>
<div class="t" style="left:713.00px;top:662.69px;font-size:11px;color:#1c2741;transform:scaleX(0.9558);">235.3 MB</div>
<div class="t" style="left:812.00px;top:662.69px;font-size:11px;color:#1c2741;transform:scaleX(0.9558);">485.9 MB</div>
<div style="position:absolute;left:21px;top:679px;width:839px;height:1px;background:#d3d3d3"></div>
<svg style="position:absolute;left:26px;top:683px" width="12" height="12" shape-rendering="crispEdges"><rect x="0" y="0" width="12" height="12" fill="#ffffff"/><rect x="0" y="0" width="11" height="1" fill="#7a7a7a"/><rect x="0" y="0" width="1" height="11" fill="#7a7a7a"/><rect x="1" y="1" width="9" height="1" fill="#404040"/><rect x="1" y="1" width="1" height="9" fill="#404040"/><rect x="1" y="10" width="10" height="1" fill="#d4d0c8"/><rect x="10" y="1" width="1" height="10" fill="#d4d0c8"/><rect x="8" y="3" width="1" height="1" fill="#000"/><rect x="7" y="4" width="1" height="1" fill="#000"/><rect x="8" y="4" width="1" height="1" fill="#000"/><rect x="4" y="5" width="1" height="1" fill="#000"/><rect x="6" y="5" width="1" height="1" fill="#000"/><rect x="7" y="5" width="1" height="1" fill="#000"/><rect x="4" y="6" width="1" height="1" fill="#000"/><rect x="5" y="6" width="1" height="1" fill="#000"/><rect x="6" y="6" width="1" height="1" fill="#000"/><rect x="5" y="7" width="1" height="1" fill="#000"/></svg>
<div style="position:absolute;left:48px;top:686px;width:14px;height:9px;background:#d9742b"></div>
<div class="t" style="left:65.00px;top:683.69px;font-size:11px;color:#1c2741;transform:scaleX(0.9778);">spoolsv.exe</div>
<svg style="position:absolute;left:234px;top:684px" width="18" height="15" viewBox="0 0 18 15"><rect x="4.5" y="3.5" width="12" height="10" rx="1" fill="#f0f2f6" stroke="#7a88a8"/><rect x="1.5" y="0.5" width="12" height="10" rx="1" fill="#fbfcfe" stroke="#7488b8"/><g fill="#8a9cc8"><rect x="3" y="2" width="1" height="1"/><rect x="3" y="4" width="1" height="1"/><rect x="3" y="6" width="1" height="1"/><rect x="3" y="8" width="1" height="1"/><rect x="5" y="2" width="7" height="1"/><rect x="5" y="4" width="7" height="1"/><rect x="5" y="6" width="7" height="1"/><rect x="5" y="8" width="7" height="1"/></g></svg>
<div class="t" style="left:253.30px;top:686.19px;font-size:11px;color:#1c2741;transform:scaleX(0.8990);">1</div>
<div class="t" style="left:323.00px;top:683.69px;font-size:11px;color:#1c2741;transform:scaleX(1.0310);">0.0 %</div>
<div style="position:absolute;left:356px;top:687px;width:30px;height:3px;background:#00e000"></div>
<div style="position:absolute;left:356px;top:687px;width:2px;height:3px;background:#d02020"></div>
<div class="t" style="left:422.50px;top:683.69px;font-size:11px;color:#1c2741;transform:scaleX(0.9853);">36.43 sec</div>
<div class="t" style="left:514.00px;top:683.69px;font-size:11px;color:#1c2741;transform:scaleX(1.0310);">0.0 %</div>
<div style="position:absolute;left:547px;top:687px;width:30px;height:3px;background:#00e000"></div>
<div style="position:absolute;left:547px;top:687px;width:2px;height:3px;background:#d02020"></div>
<div class="t" style="left:628.00px;top:683.69px;font-size:11px;color:#1c2741;transform:scaleX(0.9520);">10.2 MB</div>
<div class="t" style="left:719.00px;top:683.69px;font-size:11px;color:#1c2741;transform:scaleX(0.9520);">15.8 MB</div>
<div class="t" style="left:818.00px;top:683.69px;font-size:11px;color:#1c2741;transform:scaleX(0.9520);">90.8 MB</div>
<div style="position:absolute;left:21px;top:700px;width:839px;height:1px;background:#d3d3d3"></div>
<svg style="position:absolute;left:26px;top:704px" width="12" height="12" shape-rendering="crispEdges"><rect x="0" y="0" width="12" height="12" fill="#ffffff"/><rect x="0" y="0" width="11" height="1" fill="#7a7a7a"/><rect x="0" y="0" width="1" height="11" fill="#7a7a7a"/><rect x="1" y="1" width="9" height="1" fill="#404040"/><rect x="1" y="1" width="1" height="9" fill="#404040"/><rect x="1" y="10" width="10" height="1" fill="#d4d0c8"/><rect x="10" y="1" width="1" height="10" fill="#d4d0c8"/><rect x="8" y="3" width="1" height="1" fill="#000"/><rect x="7" y="4" width="1" height="1" fill="#000"/><rect x="8" y="4" width="1" height="1" fill="#000"/><rect x="4" y="5" width="1" height="1" fill="#000"/><rect x="6" y="5" width="1" height="1" fill="#000"/><rect x="7" y="5" width="1" height="1" fill="#000"/><rect x="4" y="6" width="1" height="1" fill="#000"/><rect x="5" y="6" width="1" height="1" fill="#000"/><rect x="6" y="6" width="1" height="1" fill="#000"/><rect x="5" y="7" width="1" height="1" fill="#000"/></svg>
<div style="position:absolute;left:48px;top:707px;width:14px;height:9px;background:#8394c6"></div>
<div class="t" style="left:65.00px;top:704.69px;font-size:11px;color:#1c2741;transform:scaleX(0.9390);">EmcPowSrv.exe</div>
<svg style="position:absolute;left:234px;top:705px" width="18" height="15" viewBox="0 0 18 15"><rect x="4.5" y="3.5" width="12" height="10" rx="1" fill="#f0f2f6" stroke="#7a88a8"/><rect x="1.5" y="0.5" width="12" height="10" rx="1" fill="#fbfcfe" stroke="#7488b8"/><g fill="#8a9cc8"><rect x="3" y="2" width="1" height="1"/><rect x="3" y="4" width="1" height="1"/><rect x="3" y="6" width="1" height="1"/><rect x="3" y="8" width="1" height="1"/><rect x="5" y="2" width="7" height="1"/><rect x="5" y="4" width="7" height="1"/><rect x="5" y="6" width="7" height="1"/><rect x="5" y="8" width="7" height="1"/></g></svg>
<div class="t" style="left:253.30px;top:707.19px;font-size:11px;color:#1c2741;transform:scaleX(0.8990);">1</div>
<div class="t" style="left:323.00px;top:704.69px;font-size:11px;color:#1c2741;transform:scaleX(1.0310);">0.0 %</div>
<div style="position:absolute;left:356px;top:708px;width:30px;height:3px;background:#00e000"></div>
<div style="position:absolute;left:356px;top:708px;width:2px;height:3px;background:#d02020"></div>
<div class="t" style="left:422.50px;top:704.69px;font-size:11px;color:#1c2741;transform:scaleX(0.9853);">13.15 sec</div>
<div class="t" style="left:514.00px;top:704.69px;font-size:11px;color:#1c2741;transform:scaleX(1.0310);">0.0 %</div>
<div style="position:absolute;left:547px;top:708px;width:30px;height:3px;background:#00e000"></div>
<div style="position:absolute;left:547px;top:708px;width:2px;height:3px;background:#d02020"></div>
<div class="t" style="left:634.00px;top:704.69px;font-size:11px;color:#1c2741;transform:scaleX(0.9470);">6.3 MB</div>
<div class="t" style="left:719.00px;top:704.69px;font-size:11px;color:#1c2741;transform:scaleX(0.9520);">12.1 MB</div>
<div class="t" style="left:818.00px;top:704.69px;font-size:11px;color:#1c2741;transform:scaleX(0.9520);">90.7 MB</div>
<div style="position:absolute;left:21px;top:721px;width:839px;height:1px;background:#d3d3d3"></div>
<svg style="position:absolute;left:26px;top:725px" width="12" height="12" shape-rendering="crispEdges"><rect x="0" y="0" width="12" height="12" fill="#ffffff"/><rect x="0" y="0" width="11" height="1" fill="#7a7a7a"/><rect x="0" y="0" width="1" height="11" fill="#7a7a7a"/><rect x="1" y="1" width="9" height="1" fill="#404040"/><rect x="1" y="1" width="1" height="9" fill="#404040"/><rect x="1" y="10" width="10" height="1" fill="#d4d0c8"/><rect x="10" y="1" width="1" height="10" fill="#d4d0c8"/><rect x="8" y="3" width="1" height="1" fill="#000"/><rect x="7" y="4" width="1" height="1" fill="#000"/><rect x="8" y="4" width="1" height="1" fill="#000"/><rect x="4" y="5" width="1" height="1" fill="#000"/><rect x="6" y="5" width="1" height="1" fill="#000"/><rect x="7" y="5" width="1" height="1" fill="#000"/><rect x="4" y="6" width="1" height="1" fill="#000"/><rect x="5" y="6" width="1" height="1" fill="#000"/><rect x="6" y="6" width="1" height="1" fill="#000"/><rect x="5" y="7" width="1" height="1" fill="#000"/></svg>
<div style="position:absolute;left:48px;top:728px;width:14px;height:9px;background:#f2c070"></div>
<div class="t" style="left:65.00px;top:725.69px;font-size:11px;color:#1c2741;transform:scaleX(0.9716);">dsm_sa_eventmgr32.exe</div>
<svg style="position:absolute;left:234px;top:726px" width="18" height="15" viewBox="0 0 18 15"><rect x="4.5" y="3.5" width="12" height="10" rx="1" fill="#f0f2f6" stroke="#7a88a8"/><rect x="1.5" y="0.5" width="12" height="10" rx="1" fill="#fbfcfe" stroke="#7488b8"/><g fill="#8a9cc8"><rect x="3" y="2" width="1" height="1"/><rect x="3" y="4" width="1" height="1"/><rect x="3" y="6" width="1" height="1"/><rect x="3" y="8" width="1" height="1"/><rect x="5" y="2" width="7" height="1"/><rect x="5" y="4" width="7" height="1"/><rect x="5" y="6" width="7" height="1"/><rect x="5" y="8" width="7" height="1"/></g></svg>
<div class="t" style="left:253.30px;top:728.19px;font-size:11px;color:#1c2741;transform:scaleX(0.8990);">1</div>
<div class="t" style="left:323.00px;top:725.69px;font-size:11px;color:#1c2741;transform:scaleX(1.0310);">0.0 %</div>
<div style="position:absolute;left:356px;top:729px;width:30px;height:3px;background:#00e000"></div>
<div style="position:absolute;left:356px;top:729px;width:2px;height:3px;background:#d02020"></div>
<div class="t" style="left:422.50px;top:725.69px;font-size:11px;color:#1c2741;transform:scaleX(0.9853);">46.25 sec</div>
<div class="t" style="left:514.00px;top:725.69px;font-size:11px;color:#1c2741;transform:scaleX(1.0310);">0.0 %</div>
<div style="position:absolute;left:547px;top:729px;width:30px;height:3px;background:#00e000"></div>
<div style="position:absolute;left:547px;top:729px;width:2px;height:3px;background:#d02020"></div>
<div class="t" style="left:634.00px;top:725.69px;font-size:11px;color:#1c2741;transform:scaleX(0.9470);">6.8 MB</div>
<div class="t" style="left:719.00px;top:725.69px;font-size:11px;color:#1c2741;transform:scaleX(0.9520);">10.4 MB</div>
<div class="t" style="left:818.00px;top:725.69px;font-size:11px;color:#1c2741;transform:scaleX(0.9520);">63.6 MB</div>
<div style="position:absolute;left:21px;top:742px;width:839px;height:1px;background:#d3d3d3"></div>
<svg style="position:absolute;left:26px;top:746px" width="12" height="12" shape-rendering="crispEdges"><rect x="0" y="0" width="12" height="12" fill="#ffffff"/><rect x="0" y="0" width="11" height="1" fill="#7a7a7a"/><rect x="0" y="0" width="1" height="11" fill="#7a7a7a"/><rect x="1" y="1" width="9" height="1" fill="#404040"/><rect x="1" y="1" width="1" height="9" fill="#404040"/><rect x="1" y="10" width="10" height="1" fill="#d4d0c8"/><rect x="10" y="1" width="1" height="10" fill="#d4d0c8"/><rect x="8" y="3" width="1" height="1" fill="#000"/><rect x="7" y="4" width="1" height="1" fill="#000"/><rect x="8" y="4" width="1" height="1" fill="#000"/><rect x="4" y="5" width="1" height="1" fill="#000"/><rect x="6" y="5" width="1" height="1" fill="#000"/><rect x="7" y="5" width="1" height="1" fill="#000"/><rect x="4" y="6" width="1" height="1" fill="#000"/><rect x="5" y="6" width="1" height="1" fill="#000"/><rect x="6" y="6" width="1" height="1" fill="#000"/><rect x="5" y="7" width="1" height="1" fill="#000"/></svg>
<div style="position:absolute;left:48px;top:749px;width:14px;height:9px;background:#808000"></div>
<div class="t" style="left:65.00px;top:746.69px;font-size:11px;color:#1c2741;transform:scaleX(0.9687);">csrss.exe</div>
<svg style="position:absolute;left:234px;top:747px" width="18" height="15" viewBox="0 0 18 15"><rect x="4.5" y="3.5" width="12" height="10" rx="1" fill="#f0f2f6" stroke="#7a88a8"/><rect x="1.5" y="0.5" width="12" height="10" rx="1" fill="#fbfcfe" stroke="#7488b8"/><g fill="#8a9cc8"><rect x="3" y="2" width="1" height="1"/><rect x="3" y="4" width="1" height="1"/><rect x="3" y="6" width="1" height="1"/><rect x="3" y="8" width="1" height="1"/><rect x="5" y="2" width="7" height="1"/><rect x="5" y="4" width="7" height="1"/><rect x="5" y="6" width="7" height="1"/><rect x="5" y="8" width="7" height="1"/></g></svg>
<div class="t" style="left:253.30px;top:749.19px;font-size:11px;color:#1c2741;transform:scaleX(0.8990);">3</div>
<div class="t" style="left:323.00px;top:746.69px;font-size:11px;color:#1c2741;transform:scaleX(1.0310);">0.0 %</div>
<div style="position:absolute;left:356px;top:750px;width:30px;height:3px;background:#00e000"></div>
<div style="position:absolute;left:356px;top:750px;width:2px;height:3px;background:#d02020"></div>
<div class="t" style="left:416.50px;top:746.69px;font-size:11px;color:#1c2741;transform:scaleX(0.9848);">174.13 sec</div>
<div class="t" style="left:514.00px;top:746.69px;font-size:11px;color:#1c2741;transform:scaleX(1.0310);">0.1 %</div>
<div style="position:absolute;left:547px;top:750px;width:30px;height:3px;background:#00e000"></div>
<div style="position:absolute;left:547px;top:750px;width:2px;height:3px;background:#d02020"></div>
<div class="t" style="left:634.00px;top:746.69px;font-size:11px;color:#1c2741;transform:scaleX(0.9470);">9.2 MB</div>
<div class="t" style="left:719.00px;top:746.69px;font-size:11px;color:#1c2741;transform:scaleX(0.9520);">18.7 MB</div>
<div class="t" style="left:812.00px;top:746.69px;font-size:11px;color:#1c2741;transform:scaleX(0.9558);">267.6 MB</div>
<div style="position:absolute;left:21px;top:763px;width:839px;height:1px;background:#d3d3d3"></div>
<svg style="position:absolute;left:26px;top:767px" width="12" height="12" shape-rendering="crispEdges"><rect x="0" y="0" width="12" height="12" fill="#ffffff"/><rect x="0" y="0" width="11" height="1" fill="#7a7a7a"/><rect x="0" y="0" width="1" height="11" fill="#7a7a7a"/><rect x="1" y="1" width="9" height="1" fill="#404040"/><rect x="1" y="1" width="1" height="9" fill="#404040"/><rect x="1" y="10" width="10" height="1" fill="#d4d0c8"/><rect x="10" y="1" width="1" height="10" fill="#d4d0c8"/><rect x="8" y="3" width="1" height="1" fill="#000"/><rect x="7" y="4" width="1" height="1" fill="#000"/><rect x="8" y="4" width="1" height="1" fill="#000"/><rect x="4" y="5" width="1" height="1" fill="#000"/><rect x="6" y="5" width="1" height="1" fill="#000"/><rect x="7" y="5" width="1" height="1" fill="#000"/><rect x="4" y="6" width="1" height="1" fill="#000"/><rect x="5" y="6" width="1" height="1" fill="#000"/><rect x="6" y="6" width="1" height="1" fill="#000"/><rect x="5" y="7" width="1" height="1" fill="#000"/></svg>
<div style="position:absolute;left:48px;top:770px;width:14px;height:9px;background:#3a6cb8"></div>
<div class="t" style="left:65.00px;top:767.69px;font-size:11px;color:#1c2741;transform:scaleX(0.9413);">mmc.exe</div>
<svg style="position:absolute;left:234px;top:768px" width="18" height="15" viewBox="0 0 18 15"><rect x="4.5" y="3.5" width="12" height="10" rx="1" fill="#f0f2f6" stroke="#7a88a8"/><rect x="1.5" y="0.5" width="12" height="10" rx="1" fill="#fbfcfe" stroke="#7488b8"/><g fill="#8a9cc8"><rect x="3" y="2" width="1" height="1"/><rect x="3" y="4" width="1" height="1"/><rect x="3" y="6" width="1" height="1"/><rect x="3" y="8" width="1" height="1"/><rect x="5" y="2" width="7" height="1"/><rect x="5" y="4" width="7" height="1"/><rect x="5" y="6" width="7" height="1"/><rect x="5" y="8" width="7" height="1"/></g></svg>
<div class="t" style="left:253.30px;top:770.19px;font-size:11px;color:#1c2741;transform:scaleX(0.8990);">1</div>
<div class="t" style="left:323.00px;top:767.69px;font-size:11px;color:#1c2741;transform:scaleX(1.0310);">0.2 %</div>
<div style="position:absolute;left:356px;top:771px;width:30px;height:3px;background:#00e000"></div>
<div style="position:absolute;left:356px;top:771px;width:2px;height:3px;background:#d02020"></div>
<div class="t" style="left:407.50px;top:767.69px;font-size:11px;color:#1c2741;transform:scaleX(0.9842);">3,901.48 sec</div>
<div class="t" style="left:514.00px;top:767.69px;font-size:11px;color:#1c2741;transform:scaleX(1.0310);">0.1 %</div>
<div style="position:absolute;left:547px;top:771px;width:30px;height:3px;background:#00e000"></div>
<div style="position:absolute;left:547px;top:771px;width:2px;height:3px;background:#d02020"></div>
<div class="t" style="left:622.00px;top:767.69px;font-size:11px;color:#1c2741;transform:scaleX(0.9558);">189.9 MB</div>
<div class="t" style="left:719.00px;top:767.69px;font-size:11px;color:#1c2741;transform:scaleX(0.9520);">47.5 MB</div>
<div class="t" style="left:825.00px;top:767.69px;font-size:11px;color:#1c2741;transform:scaleX(0.9346);">1.2 GB</div>
<div style="position:absolute;left:21px;top:784px;width:839px;height:1px;background:#d3d3d3"></div>
<svg style="position:absolute;left:26px;top:788px" width="12" height="12" shape-rendering="crispEdges"><rect x="0" y="0" width="12" height="12" fill="#ffffff"/><rect x="0" y="0" width="11" height="1" fill="#7a7a7a"/><rect x="0" y="0" width="1" height="11" fill="#7a7a7a"/><rect x="1" y="1" width="9" height="1" fill="#404040"/><rect x="1" y="1" width="1" height="9" fill="#404040"/><rect x="1" y="10" width="10" height="1" fill="#d4d0c8"/><rect x="10" y="1" width="1" height="10" fill="#d4d0c8"/><rect x="8" y="3" width="1" height="1" fill="#000"/><rect x="7" y="4" width="1" height="1" fill="#000"/><rect x="8" y="4" width="1" height="1" fill="#000"/><rect x="4" y="5" width="1" height="1" fill="#000"/><rect x="6" y="5" width="1" height="1" fill="#000"/><rect x="7" y="5" width="1" height="1" fill="#000"/><rect x="4" y="6" width="1" height="1" fill="#000"/><rect x="5" y="6" width="1" height="1" fill="#000"/><rect x="6" y="6" width="1" height="1" fill="#000"/><rect x="5" y="7" width="1" height="1" fill="#000"/></svg>
<div style="position:absolute;left:48px;top:791px;width:14px;height:9px;background:#808010"></div>
<div class="t" style="left:65.00px;top:788.69px;font-size:11px;color:#1c2741;transform:scaleX(0.9775);">rdpclip.exe</div>
<svg style="position:absolute;left:234px;top:789px" width="18" height="15" viewBox="0 0 18 15"><rect x="4.5" y="3.5" width="12" height="10" rx="1" fill="#f0f2f6" stroke="#7a88a8"/><rect x="1.5" y="0.5" width="12" height="10" rx="1" fill="#fbfcfe" stroke="#7488b8"/><g fill="#8a9cc8"><rect x="3" y="2" width="1" height="1"/><rect x="3" y="4" width="1" height="1"/><rect x="3" y="6" width="1" height="1"/><rect x="3" y="8" width="1" height="1"/><rect x="5" y="2" width="7" height="1"/><rect x="5" y="4" width="7" height="1"/><rect x="5" y="6" width="7" height="1"/><rect x="5" y="8" width="7" height="1"/></g></svg>
<div class="t" style="left:253.30px;top:791.19px;font-size:11px;color:#1c2741;transform:scaleX(0.8990);">1</div>
<div class="t" style="left:323.00px;top:788.69px;font-size:11px;color:#1c2741;transform:scaleX(1.0310);">0.0 %</div>
<div style="position:absolute;left:356px;top:792px;width:30px;height:3px;background:#00e000"></div>
<div style="position:absolute;left:356px;top:792px;width:2px;height:3px;background:#d02020"></div>
<div class="t" style="left:428.50px;top:788.69px;font-size:11px;color:#1c2741;transform:scaleX(0.9860);">9.79 sec</div>
<div class="t" style="left:514.00px;top:788.69px;font-size:11px;color:#1c2741;transform:scaleX(1.0310);">0.0 %</div>
<div style="position:absolute;left:547px;top:792px;width:30px;height:3px;background:#00e000"></div>
<div style="position:absolute;left:547px;top:792px;width:2px;height:3px;background:#d02020"></div>
<div class="t" style="left:634.00px;top:788.69px;font-size:11px;color:#1c2741;transform:scaleX(0.9470);">2.9 MB</div>
<div class="t" style="left:725.00px;top:788.69px;font-size:11px;color:#1c2741;transform:scaleX(0.9470);">7.3 MB</div>
<div class="t" style="left:818.00px;top:788.69px;font-size:11px;color:#1c2741;transform:scaleX(0.9520);">60.1 MB</div>
</div>
<div style="position:absolute;left:864px;top:658px;width:15px;height:135px;background:linear-gradient(90deg,#f0f0f0 0,#f0f0f0 1px,#f8f8f8 1px,#f8f8f8 4px,#eeeef0 6px,#e9eaec 100%)"></div>
<svg style="position:absolute;left:868px;top:663px" width="8" height="5"><path d="M0.5 4 L4 0.5 L7.5 4 Z" fill="#333"/></svg>
<div style="position:absolute;left:864px;top:673px;width:13px;height:12px;border:1px solid #a0a0a0;background:linear-gradient(#fafafa,#ececec)"></div>
<svg style="position:absolute;left:868px;top:783px" width="8" height="5"><path d="M0.5 0.5 L4 4 L7.5 0.5 Z" fill="#333"/></svg>
<div style="position:absolute;left:0;top:0;width:926px;height:834px;border:1px solid #999;pointer-events:none"></div>
</body></html>
